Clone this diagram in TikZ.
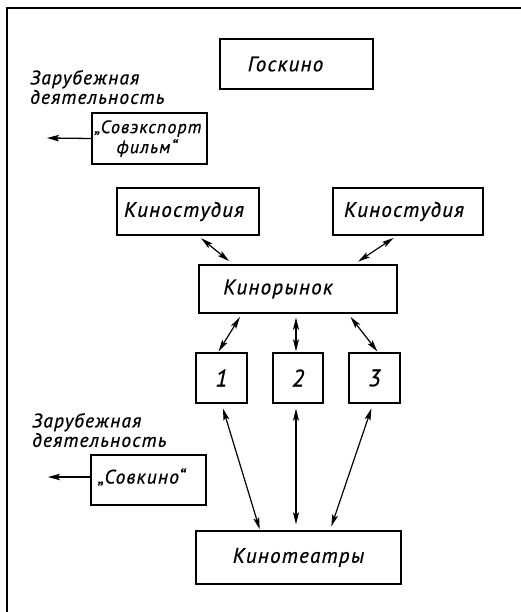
\documentclass[tikz,border=0pt]{standalone}
\usepackage{fontspec}
\newfontfamily\dfont{PT Sans}[LetterSpace=6,FakeBold=0.7]
\usetikzlibrary{arrows.meta}
\tikzset{
  box/.style={draw, line width=1.4pt, inner sep=0pt},
  lbl/.style={inner sep=0pt, font=\dfont\itshape\fontsize{21}{24}\selectfont},
  sm/.style={inner sep=0pt, align=left, font=\dfont\itshape\fontsize{19.5}{20.5}\selectfont},
  num/.style={inner sep=0pt, font=\dfont\itshape\fontsize{24}{26}\selectfont},
  arr/.style={line width=1.2pt, {Stealth[length=12pt,width=6pt,inset=2.5pt]}-{Stealth[length=12pt,width=6pt,inset=2.5pt]}},
  oarr/.style={line width=1.3pt, -{Stealth[length=12pt,width=6.5pt,inset=2.5pt]}}
}
\begin{document}
\begin{tikzpicture}[x=1pt,y=-1pt]
\useasboundingbox (0,0) rectangle (521,612);
% frame
\draw[line width=2pt] (521,8) -- (7,8) -- (7,612);
% boxes
\node[box, minimum width=153pt, minimum height=50pt] (gos) at (296.5,64) {};
\node[box, minimum width=115pt, minimum height=51pt] (sov1) at (149.5,138.5) {};
\node[box, minimum width=142pt, minimum height=47pt] (st1) at (188,211.5) {};
\node[box, minimum width=150pt, minimum height=47pt] (st2) at (408,211.5) {};
\node[box, minimum width=198pt, minimum height=48pt] (ryn) at (298,289) {};
\node[box, minimum width=51pt, minimum height=50pt] (b1) at (221.5,378) {};
\node[box, minimum width=50pt, minimum height=50pt] (b2) at (298,378) {};
\node[box, minimum width=51pt, minimum height=50pt] (b3) at (374.5,378) {};
\node[box, minimum width=115pt, minimum height=50pt] (sov2) at (148.5,480) {};
\node[box, minimum width=205pt, minimum height=53pt] (teatr) at (298.5,557.5) {};
% labels
\node[lbl] (tgos) at ([xshift=-11pt]gos.center) {Госкино};
\node[lbl] (tst1) at ([xshift=-4pt]st1.center) {Киностудия};
\node[lbl] (tst2) at ([xshift=-4pt]st2.center) {Киностудия};
\node[lbl] (tryn) at ([xshift=-20pt]ryn.center) {Кинорынок};
\node[lbl] (tteatr) at (teatr.center) {Кинотеатры};
\node[num] (t1) at (b1.center) {1};
\node[num] (t2) at (b2.center) {2};
\node[num] (t3) at (b3.center) {3};
\node[sm, anchor=north west] (za1) at (30,70) {Зарубежная\\[-1pt]деятельность};
\node[sm, anchor=north west] (za2) at (32,413) {Зарубежная\\[-1pt]деятельность};
\node[sm, anchor=west, font=\dfont\itshape\fontsize{18}{20}\selectfont] (tsov1) at ([xshift=3pt]sov1.west) {„Совэкспорт\\\hspace*{22pt}фильм“};
\node[sm] (tsov2) at ([xshift=-7pt,yshift=3pt]sov2.center) {„Совкино“};
% outward arrows
\coordinate (o1) at (47,138);
\coordinate (o2) at (48,477);
\draw[oarr] (sov1.west) -- (o1);
\draw[oarr] ([yshift=3pt]sov2.west) -- (o2);
% connectors
\draw[arr, shorten <=4pt, shorten >=5pt] ([xshift=10pt]st1.south) -- ([xshift=-65pt]ryn.north);
\draw[arr, shorten <=4pt, shorten >=5pt] ([xshift=-11pt]st2.south) -- ([xshift=56pt]ryn.north);
\draw[arr, shorten <=4pt, shorten >=1pt] ([xshift=-56pt]ryn.south) -- ([xshift=-3.5pt]b1.north);
\draw[arr, shorten <=4pt, shorten >=1pt] ([xshift=-2pt]ryn.south) -- ([xshift=-2pt]b2.north);
\draw[arr, shorten <=4pt, shorten >=1pt] ([xshift=50pt]ryn.south) -- ([xshift=3.5pt]b3.north);
\draw[arr, shorten <=5pt, shorten >=1pt] (b1.south) -- ([xshift=-38.5pt]teatr.north);
\draw[arr, shorten <=5pt, shorten >=6pt] ([xshift=-2pt]b2.south) -- ([xshift=-2.5pt]teatr.north);
\draw[arr, shorten <=5pt, shorten >=4pt] ([xshift=-1.5pt]b3.south) -- ([xshift=31.5pt]teatr.north);
\end{tikzpicture}
\end{document}
